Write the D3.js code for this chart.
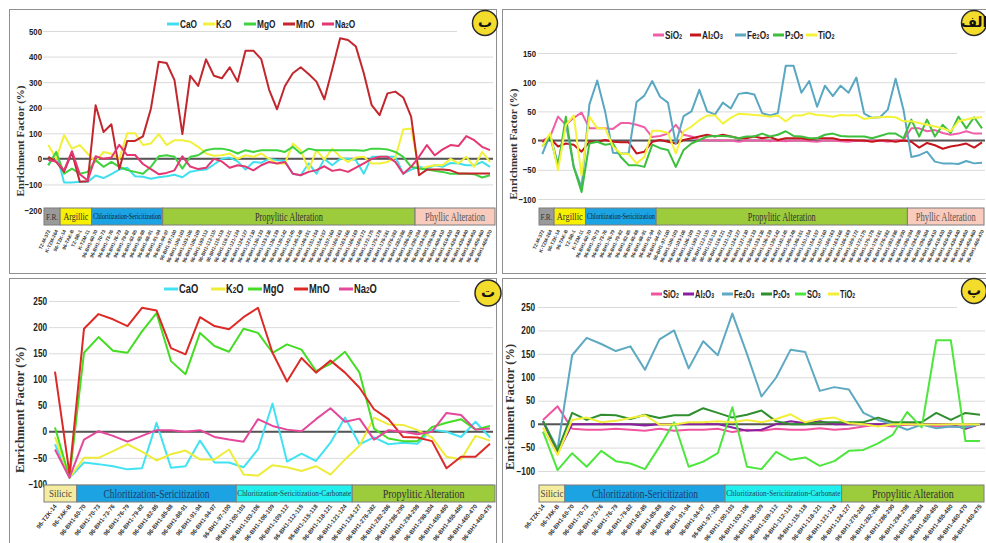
<!DOCTYPE html>
<html>
<head>
<meta charset="utf-8">
<script src="https://cdn.jsdelivr.net/npm/d3@7"></script>
<style>
  body { margin: 0; background: #fff; }
  svg { display: block; }
</style>
</head>
<body>
<svg id="chart" width="986" height="543"></svg>
<script>
// ---------- Sample labels ----------
const topSamples = [
  "TZ-M-372", "K-TZM-264", "96-TZK-14", "96-TAK-B", "TZ-SB-1", "K-TZM-11",
  "96-BH1-60-70", "96-BH1-70-73", "96-BH1-73-76", "96-BH1-76-79", "96-BH1-79-82",
  "96-BH1-82-85", "96-BH1-85-88", "96-BH1-88-91", "96-BH1-91-94", "96-BH1-94-97",
  "96-BH1-97-100", "96-BH1-100-103", "96-BH1-103-106", "96-BH1-106-109", "96-BH1-109-112",
  "96-BH1-112-115", "96-BH1-115-118", "96-BH1-118-121", "96-BH1-121-124", "96-BH1-124-127",
  "96-BH1-127-130", "96-BH1-130-133", "96-BH1-133-136", "96-BH1-136-139", "96-BH1-139-142",
  "96-BH1-142-145", "96-BH1-145-148", "96-BH1-148-151", "96-BH1-151-154", "96-BH1-154-157",
  "96-BH1-157-160", "96-BH1-160-163", "96-BH1-163-166", "96-BH1-166-169", "96-BH1-169-172",
  "96-BH1-172-175", "96-BH1-175-178", "96-BH1-178-181", "96-BH1-276-282", "96-BH1-282-286",
  "96-BH1-286-290", "96-BH1-290-294", "96-BH1-294-298", "96-BH1-298-304", "96-BH1-400-410",
  "96-BH1-410-420", "96-BH1-420-430", "96-BH1-430-440", "96-BH1-440-450", "96-BH1-450-460",
  "96-BH1-460-470"
];
const bottomSamples = [
  "96-TZK-14", "96-TAK-B", "96-BH1-60-70", "96-BH1-70-73", "96-BH1-73-76", "96-BH1-76-79",
  "96-BH1-79-82", "96-BH1-82-85", "96-BH1-85-88", "96-BH1-88-91", "96-BH1-91-94",
  "96-BH1-94-97", "96-BH1-97-100", "96-BH1-100-103", "96-BH1-103-106", "96-BH1-106-109",
  "96-BH1-109-112", "96-BH1-112-115", "96-BH1-115-118", "96-BH1-118-121", "96-BH1-121-124",
  "96-BH1-124-127", "96-BH1-276-282", "96-BH1-282-286", "96-BH1-286-290", "96-BH1-294-298",
  "96-BH1-298-304", "96-BH1-450-460", "96-BH1-455-460", "96-BH1-460-470", "96-BH1-460-475"
];

// ---------- Alteration zones (name, number of samples) ----------
const topZoneNames = ["F.R.", "Argillic", "Chloritization-Sericitization", "Propylitic Alteration", "Phyllic Alteration"];
const topZoneCounts = [2, 4, 9, 32, 10];
const bottomZoneNames = ["Silicic", "Chloritization-Sericitization", "Chloritization-Sericitization-Carbonate", "Propylitic Alteration"];
const bottomZoneCounts = [2, 11, 8, 10];

// ---------- Axis ticks ----------
const ticksB = [-200, -100, 0, 100, 200, 300, 400, 500];
const ticksAlef = [-100, -50, 0, 50, 100, 150];
const ticksTe = [-100, -50, 0, 50, 100, 150, 200, 250];
const ticksPe = [-100, -50, 0, 50, 100, 150, 200, 250];

// ---------- Panel ب : mobile oxides (%) ----------
const bCaO = [-25, 25, -92, -92, -90, -90, -65, -75, -60, -42, -35, -68, -70, -78, -72, -68, -62, -72, -50, -45, -42, -22, 0, 5, -10, -42, -12,
  -15, 0, -5, -8, -58, -64, -18, -58, 0, -25, 0, 0, -5, -58, 8, 8, 8, 8, -58, -42, -31, -38, -25, -31, -16, -18, -25, -25, -12, -31];
const bK2O = [54, 0, 93, 40, 54, 20, -12, 27, 20, 0, 100, 100, 54, 60, 97, 54, 73, 73, 67, 47, 21, 12, 14, 21, 0, 14, 8,
  21, 0, -18, -18, 60, 34, -42, 34, -3, 40, 8, -12, 5, 8, -18, -18, -12, 5, 115, 119, -42, -31, -25, -25, 0, -18, 8, -31, 27, -12];
const bMgO = [-25, 27, -58, -38, -58, -51, -5, -31, -12, -31, -44, -51, -58, -31, 10, 14, 8, -38, 8, 14, 34, 40, 40, 34, 21, 34, 27,
  34, 34, 34, 27, 47, 21, 40, 34, 34, 34, 34, 34, 34, 32, 40, 40, 37, 27, 8, -31, -38, -42, -47, -51, -58, -58, -58, -60, -73, -64];
const bMnO = [8, -12, -50, 25, -90, -88, 210, 105, 135, -40, 70, 70, 88, 195, 380, 375, 308, 97, 325, 285, 389, 325, 315, 358, 302, 423, 423,
  390, 270, 194, 285, 335, 358, 332, 302, 233, 350, 472, 465, 439, 335, 210, 171, 256, 263, 240, 165, -64, -42, -42, -42, -45, -57, -57, -57, -57, -57];
const bNa2O = [-5, -10, -45, 30, -60, -85, 10, 0, 5, 55, 15, 15, -20, -40, -60, -55, -45, 10, -30, -40, -35, 0, -10, -35, -25, -30, -45,
  -25, -12, -18, -12, -58, -64, -51, -44, -29, -47, -42, -51, -34, -18, 0, 8, 8, -12, -58, -31, 8, 54, 14, 37, 54, 50, 89, 73, 47, 34];

// ---------- Panel الف : major oxides (%) ----------
const aSiO2 = [0, 7, 41, 27, 39, 48, 21, 21, 21, 20, 30, 30, 27, 23, 6, 8, 12, 27, 10, 7, 1, 0, 0, 0, 0, -2, 0,
  0, 0, -1, 0, -1, 0, 0, -1, -2, 0, 0, -1, -2, 0, -1, 0, 0, -2, 0, 1, 21, 21, 16, 18, 13, 10, 12, 16, 12, 12];
const aAl2O3 = [-2, 4, -10, -5, -7, -19, -2, -2, 1, -2, -3, -3, -22, -19, -2, 1, -2, -5, 1, 4, 7, 10, 7, 10, 7, 4, 4,
  7, 4, 6, 1, 4, 4, 4, 2, 4, 4, 4, 1, 1, 0, 0, -2, 0, 0, -2, 0, -2, -12, -4, -8, -14, -10, -8, -5, -12, -3];
const aFe2O3 = [-23, 10, -40, 30, -45, -80, 62, 103, 50, -21, -22, -22, 66, 77, 102, 75, 65, -5, 42, 50, 87, 50, 45, 65, 55, 80, 82,
  79, 47, 43, 47, 128, 128, 82, 102, 58, 94, 76, 94, 82, 108, 46, 39, 40, 53, 106, 53, -28, -25, -19, -36, -39, -39, -40, -35, -39, -38];
const aP2O5 = [-10, 7, -45, 41, -45, -88, -5, -2, -7, -5, -28, -42, -42, -45, -7, -13, -16, -45, -16, -5, 1, 7, 8, 8, 7, 4, 7,
  7, 12, 7, 10, 16, 8, 7, 4, 4, 10, 12, 8, 7, 7, 7, 4, 8, 12, 12, 4, 36, 7, 36, 7, 27, 13, 41, 21, 40, 21];
const aTiO2 = [-10, 13, -51, 27, 43, -60, 41, 21, 21, -10, -22, -23, -39, -28, 17, 17, 13, -22, 16, 24, 35, 43, 43, 29, 39, 46, 45,
  44, 43, 41, 43, 33, 43, 43, 47, 44, 43, 41, 44, 43, 44, 37, 39, 40, 41, 40, 33, 33, 30, 27, 24, 21, 16, 33, 36, 39, 40];

// ---------- Panel ت : mobile oxides (%) ----------
const tCaO = [-24, -88, -59, -62, -66, -72, -70, 17, -69, -66, -17, -59, -59, -68, -34,
  54, -57, -42, -56, -21, 27, -24, -11, -24, -21, -23, 4, 0, -10, 19, -11];
const tK2O = [-10, -88, -50, -50, -37, -24, -38, -55, -43, -36, -53, -53, -34, -82, -84,
  -64, -68, -75, -66, -82, -53, -27, 27, 14, 13, 3, -11, -48, -53, -8, -17];
const tMgO = [8, -88, 151, 181, 155, 151, 192, 227, 135, 110, 189, 164, 153, 197, 189,
  151, 167, 157, 116, 130, 153, 113, 6, -13, -18, -18, 9, 17, 24, 4, 11];
const tMnO = [115, -80, 197, 225, 215, 202, 237, 232, 160, 148, 219, 202, 196, 219, 237,
  151, 96, 141, 113, 136, 113, 84, 43, 24, -10, -11, -18, -70, -48, -48, -23];
const tNa2O = [-34, -88, -15, 1, -8, -19, -8, 3, 3, 0, 3, -10, -15, -19, 24,
  11, 4, 1, 24, 45, 19, 25, -15, 3, 0, -5, 0, 36, 32, 4, 6];

// ---------- Panel پ : major oxides (%) ----------
const pSiO2 = [9, 38, -10, -12, -12, -10, -12, -14, -10, -14, -12, -12, -10, -17, -12,
  -14, -10, -12, -12, -9, -12, -10, -5, -1, -5, -1, -1, -5, -5, -5, -1];
const pAl2O3 = [6, -62, 0, 0, 0, 0, 0, -3, 0, 0, 0, 0, 0, -7, -14,
  -12, 0, 6, 2, 6, 0, 0, 0, 0, 0, 0, 0, 0, 0, -10, 0];
const pFe2O3 = [7, -53, 147, 184, 171, 156, 166, 116, 181, 200, 119, 177, 147, 236, 150,
  59, 99, 159, 154, 71, 79, 74, 24, 9, 0, -12, -1, -9, -5, -7, 0];
const pP2O5 = [7, -57, 24, 9, 20, 19, 11, 20, 13, 19, 19, 34, 24, 14, 20,
  29, 6, 0, 0, 4, 4, 4, 4, 14, 4, 4, 4, 24, 9, 24, 20];
const pSO3 = [-16, -98, -62, -91, -57, -79, -84, -96, -48, 4, -91, -80, -62, 36, -91,
  -96, -59, -76, -71, -89, -79, -57, -55, -41, -23, 26, -7, 179, 179, -36, -36];
const pTiO2 = [-7, -66, 9, 14, 4, 7, 13, 19, -1, -1, 4, 4, 6, 4, 9,
  4, 11, 21, 4, 11, 14, 2, 0, -5, 0, 0, -1, -1, 0, 0, -1];

// ---------- Styling ----------
const SANS = "'Liberation Sans', Arial, Helvetica, sans-serif";
const SERIF = "'Liberation Serif', 'Times New Roman', serif";
const topZoneFills = ["#9a9a9a", "#f7f000", "#1ca3e3", "#9ccb3b", "#f9cbbd"];
const bottomZoneFills = ["#f6eca0", "#1ca3e3", "#22f0ee", "#9ccb3b"];

const panels = [
  {
    frame: [9.5, 9.5, 487, 264],
    categories: topSamples,
    xRange: [48.3, 490], gridX: [43, 493], topGridEnd: 457,
    yDomain: [-200, 500], yRange: [210, 31], yTicks: ticksB, yLabelRight: 42, yFont: 9.5,
    lineWidth: 2,
    series: [
      { name: "CaO", values: bCaO, color: "#3fdfee" },
      { name: "K2O", values: bK2O, color: "#f1f03a" },
      { name: "MgO", values: bMgO, color: "#3fd23f" },
      { name: "MnO", values: bMnO, color: "#c1272d" },
      { name: "Na2O", values: bNa2O, color: "#e33673" }
    ],
    legendX: [167, 203, 244, 283, 322], legendY: 24, legendLine: 12, legendFont: 11.5, legendSx: 0.72,
    zones: { names: topZoneNames, counts: topZoneCounts, fills: topZoneFills,
             fonts: [9, 10, 7.5, 11.5, 11.5], widths: [12, 25, 68, 68, 60], colors: ["#333", "#333", "#123", "#333", "#555"] },
    bandX: [44, 495], bandY: 208, bandH: 17,
    labelY: 230, labelAngle: -65, labelFont: 4.8,
    badge: { cx: 485, cy: 23, r: 12.5, letter: "ب" },
    title: { x: 20, y: 141, size: 11 }
  },
  {
    frame: [502.5, 9.5, 484, 264],
    categories: topSamples,
    xRange: [542.3, 982], gridX: [538, 985], topGridEnd: 957,
    yDomain: [-100, 150], yRange: [199, 53], yTicks: ticksAlef, yLabelRight: 536, yFont: 9.5,
    lineWidth: 2,
    series: [
      { name: "SiO2", values: aSiO2, color: "#ef5fa8" },
      { name: "Al2O3", values: aAl2O3, color: "#c4161c" },
      { name: "Fe2O3", values: aFe2O3, color: "#5aa7c2" },
      { name: "P2O5", values: aP2O5, color: "#3cbf3c" },
      { name: "TiO2", values: aTiO2, color: "#f4f33c" }
    ],
    legendX: [653, 690, 735, 773, 806], legendY: 35, legendLine: 11, legendFont: 10.5, legendSx: 0.78,
    zones: { names: topZoneNames, counts: topZoneCounts, fills: topZoneFills,
             fonts: [9, 10, 7.5, 11.5, 11.5], widths: [12, 26, 68, 68, 60], colors: ["#333", "#333", "#123", "#333", "#555"] },
    bandX: [539, 984], bandY: 208, bandH: 17,
    labelY: 230, labelAngle: -65, labelFont: 4.8,
    badge: { cx: 974, cy: 23, r: 12.5, letter: "الف" },
    title: { x: 513, y: 144, size: 11 }
  },
  {
    frame: [9.5, 278.5, 487, 270],
    categories: bottomSamples,
    xRange: [55, 490], gridX: [49, 493], topGridEnd: 460,
    yDomain: [-100, 250], yRange: [484, 301], yTicks: ticksTe, yLabelRight: 47, yFont: 10,
    lineWidth: 2,
    series: [
      { name: "CaO", values: tCaO, color: "#42e2f2" },
      { name: "K2O", values: tK2O, color: "#eeec3a" },
      { name: "MgO", values: tMgO, color: "#45dc24" },
      { name: "MnO", values: tMnO, color: "#dc2a27" },
      { name: "Na2O", values: tNa2O, color: "#e4489a" }
    ],
    legendX: [164, 211, 248, 294, 339], legendY: 289, legendLine: 14, legendFont: 12, legendSx: 0.78,
    zones: { names: bottomZoneNames, counts: bottomZoneCounts, fills: bottomZoneFills,
             fonts: [11, 13, 8.5, 12], widths: [23, 106, 119, 82], colors: ["#444", "#1b3d6e", "#245", "#333"] },
    bandX: [44, 495], bandY: 485, bandH: 17,
    labelY: 505, labelAngle: -52, labelFont: 6,
    badge: { cx: 488, cy: 293, r: 13, letter: "ت" },
    title: { x: 20, y: 410, size: 12.5 }
  },
  {
    frame: [502.5, 278.5, 484, 270],
    categories: bottomSamples,
    xRange: [543, 980], gridX: [538, 985], topGridEnd: 957,
    yDomain: [-100, 250], yRange: [471, 307], yTicks: ticksPe, yLabelRight: 535, yFont: 10,
    lineWidth: 2,
    series: [
      { name: "SiO2", values: pSiO2, color: "#f0549e" },
      { name: "Al2O3", values: pAl2O3, color: "#8a1fa0" },
      { name: "Fe2O3", values: pFe2O3, color: "#5ea9c2" },
      { name: "P2O5", values: pP2O5, color: "#2f8f2f" },
      { name: "SO3", values: pSO3, color: "#4ee63e" },
      { name: "TiO2", values: pTiO2, color: "#f2ef3a" }
    ],
    legendX: [651, 683, 722, 761, 795, 828], legendY: 294, legendLine: 11, legendFont: 10, legendSx: 0.75,
    zones: { names: bottomZoneNames, counts: bottomZoneCounts, fills: bottomZoneFills,
             fonts: [11, 13, 8.5, 12], widths: [23, 106, 119, 82], colors: ["#444", "#1b3d6e", "#245", "#333"] },
    bandX: [539, 984], bandY: 485, bandH: 17,
    labelY: 505, labelAngle: -52, labelFont: 6,
    badge: { cx: 974, cy: 291, r: 12.5, letter: "پ" },
    title: { x: 510, y: 407, size: 12.5 }
  }
];

const svg = d3.select("#chart");

// Chemical formula with smaller digits
function formula(textSel, name) {
  name.match(/\d+|\D+/g).forEach(part => {
    const t = textSel.append("tspan").text(part);
    if (/^\d+$/.test(part)) t.attr("font-size", "68%");
  });
}

function drawPanel(cfg) {
  const g = svg.append("g");

  g.append("rect")
    .attr("x", cfg.frame[0]).attr("y", cfg.frame[1])
    .attr("width", cfg.frame[2]).attr("height", cfg.frame[3])
    .attr("fill", "#fff").attr("stroke", "#8f8f8f").attr("stroke-width", 1);

  const x = d3.scalePoint().domain(cfg.categories).range(cfg.xRange);
  const y = d3.scaleLinear().domain(cfg.yDomain).range(cfg.yRange);
  const [gx0, gx1] = cfg.gridX;
  const pad = gx0 - cfg.yLabelRight;

  // gridlines and value labels
  const ya = g.append("g")
    .attr("transform", `translate(${gx0},0)`)
    .call(d3.axisLeft(y).tickValues(cfg.yTicks).tickSize(-(gx1 - gx0)).tickPadding(pad));
  ya.select(".domain").remove();
  ya.selectAll(".tick line").attr("stroke", "#dadada").attr("stroke-width", 1);
  const topTick = d3.max(cfg.yTicks);
  ya.selectAll(".tick").filter(d => d === topTick).select("line").attr("x2", cfg.topGridEnd - gx0);
  ya.selectAll(".tick text")
    .attr("font-family", SANS).attr("font-weight", "bold").attr("font-size", cfg.yFont)
    .attr("fill", "#222")
    .attr("transform", "scale(0.82,1)")
    .attr("x", -pad / 0.82);

  // zero reference line
  g.append("line")
    .attr("x1", gx0).attr("x2", gx1).attr("y1", y(0)).attr("y2", y(0))
    .attr("stroke", "#555").attr("stroke-width", 2);

  // series
  const line = d3.line()
    .x((d, i) => x(cfg.categories[i]))
    .y(d => y(d));
  cfg.series.forEach(s => {
    g.append("path").datum(s.values)
      .attr("d", line)
      .attr("fill", "none")
      .attr("stroke", s.color)
      .attr("stroke-width", cfg.lineWidth)
      .attr("stroke-linejoin", "round");
  });

  // alteration zone strip
  const step = x.step();
  const z = cfg.zones;
  let start = 0;
  z.names.forEach((name, k) => {
    const n = z.counts[k];
    const x0 = k === 0 ? cfg.bandX[0] : x(cfg.categories[start]) - step / 2;
    const x1 = k === z.names.length - 1 ? cfg.bandX[1] : x(cfg.categories[start + n - 1]) + step / 2;
    g.append("rect")
      .attr("x", x0).attr("y", cfg.bandY)
      .attr("width", x1 - x0).attr("height", cfg.bandH)
      .attr("fill", z.fills[k]).attr("stroke", "#7d7d7d").attr("stroke-width", 1);
    // condensed label: scale the glyphs horizontally about the zone centre
    const cx = (x0 + x1) / 2, cy = cfg.bandY + cfg.bandH / 2;
    const label = g.append("text")
      .attr("x", 0).attr("y", 0)
      .attr("dy", "0.35em").attr("text-anchor", "middle")
      .attr("font-family", SERIF).attr("font-size", z.fonts[k])
      .attr("fill", z.colors[k])
      .text(name);
    const natural = label.node().getComputedTextLength();
    const target = Math.min(z.widths[k], x1 - x0 - 2);
    label.attr("transform", `translate(${cx},${cy}) scale(${target / natural},1)`);
    start += n;
  });

  // sample labels
  const xa = g.append("g")
    .attr("transform", `translate(0,${cfg.labelY})`)
    .call(d3.axisBottom(x).tickSize(0).tickPadding(0));
  xa.select(".domain").remove();
  xa.selectAll(".tick text")
    .attr("x", 0).attr("y", 0).attr("dy", "0.35em")
    .attr("text-anchor", "end")
    .attr("transform", `rotate(${cfg.labelAngle})`)
    .attr("font-family", SANS).attr("font-weight", "bold")
    .attr("font-size", cfg.labelFont).attr("fill", "#333");

  // legend
  cfg.series.forEach((s, k) => {
    const lx = cfg.legendX[k];
    g.append("line")
      .attr("x1", lx).attr("x2", lx + cfg.legendLine)
      .attr("y1", cfg.legendY).attr("y2", cfg.legendY)
      .attr("stroke", s.color).attr("stroke-width", 3);
    const t = g.append("text")
      .attr("transform", `translate(${lx + cfg.legendLine + 1},${cfg.legendY}) scale(${cfg.legendSx},1)`)
      .attr("dy", "0.36em")
      .attr("font-family", SANS).attr("font-weight", "bold")
      .attr("font-size", cfg.legendFont).attr("fill", "#222");
    formula(t, s.name);
  });

  // panel letter badge
  g.append("circle")
    .attr("cx", cfg.badge.cx).attr("cy", cfg.badge.cy).attr("r", cfg.badge.r)
    .attr("fill", "#f4dc2c").attr("stroke", "#2a2a2a").attr("stroke-width", 1.5);
  g.append("text")
    .attr("x", cfg.badge.cx).attr("y", cfg.badge.cy)
    .attr("dy", "0.3em").attr("text-anchor", "middle")
    .attr("font-family", "'DejaVu Sans', 'Noto Sans', sans-serif").attr("font-weight", "bold")
    .attr("font-size", 14).attr("fill", "#111")
    .text(cfg.badge.letter);

  // vertical axis title
  g.append("text")
    .attr("transform", `translate(${cfg.title.x},${cfg.title.y}) rotate(-90)`)
    .attr("text-anchor", "middle").attr("dy", "0.35em")
    .attr("font-family", SERIF).attr("font-weight", "bold")
    .attr("font-size", cfg.title.size).attr("fill", "#333")
    .text("Enrichment Factor (%)");
}

panels.forEach(drawPanel);
</script>
</body>
</html>
